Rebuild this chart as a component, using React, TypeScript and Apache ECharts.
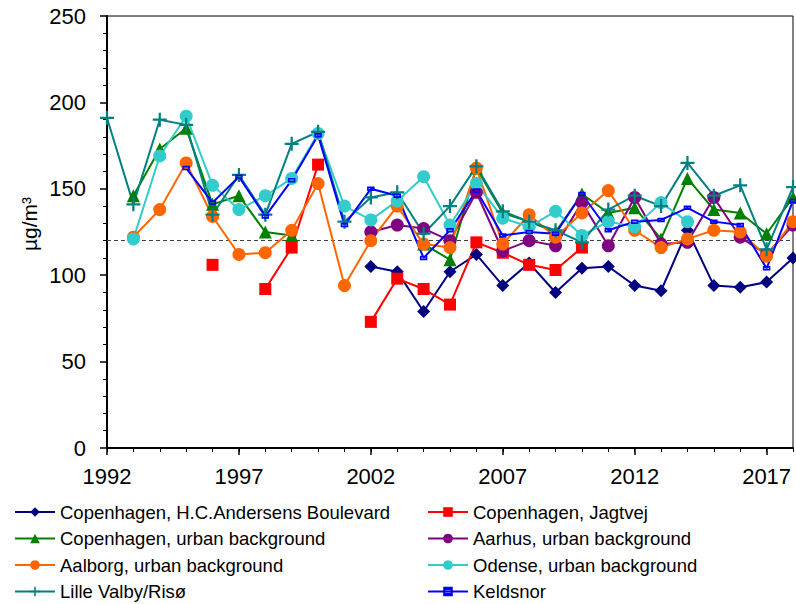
import React, { useEffect, useRef } from "react";
import * as echarts from "echarts";

const years = [
  "1992", "1993", "1994", "1995", "1996", "1997", "1998", "1999", "2000",
  "2001", "2002", "2003", "2004", "2005", "2006", "2007", "2008", "2009",
  "2010", "2011", "2012", "2013", "2014", "2015", "2016", "2017", "2018",
];

const hcAndersens = [
  null, null, null, null, null, null, null, null, null, null,
  105, 102, 79, 102, 112, 94, 107, 90, 104, 105, 94, 91, 126, 94, 93, 96, 110,
];
const jagtvej = [
  null, null, null, null, 106, null, 92, 116, 164, null,
  73, 98, 92, 83, 119, 113, 106, 103, 116, null, null, null, null, null, null, null, null,
];
const cphUrban = [
  null, 146, 173, 185, 141, 146, 125, 123, null, null,
  null, null, 118, 109, 162, 136, 131, 125, 147, 136, 139, 121, 156, 138, 136, 124, 145,
];
const aarhus = [
  null, null, null, null, null, null, null, null, null, null,
  125, 129, 127, 120, 148, 114, 120, 117, 142, 117, 145, 118, 119, 145, 122, 112, 129,
];
const aalborg = [
  null, 122, 138, 165, 134, 112, 113, 126, 153, 94,
  120, 140, 118, 116, 162, 118, 135, 122, 136, 149, 126, 116, 121, 126, 125, 111, 131,
];
const odense = [
  null, 121, 169, 192, 152, 138, 146, 156, 182, 140,
  132, 143, 157, 129, 153, 133, 128, 137, 123, 131, 128, 142, 131, null, null, null, null,
];
const lilleValby = [
  191, 141, 190, 187, 135, 158, 135, 176, 183, 131,
  145, 148, 124, 140, 163, 137, 131, 126, 119, 138, 146, 140, 165, 146, 152, 115, 151,
];
const keldsnor = [
  null, null, null, 162, 142, 157, 134, 155, 181, 129,
  150, 146, 110, 126, 149, 123, 125, 124, 147, 126, 131, 132, 139, 131, 129, 104, 143,
];

const limitValue = 120;
const yTicks = { min: 0, max: 250, interval: 50 };

const FONT = "'Liberation Sans', Arial, sans-serif";
const PLUS = "path://M4.2,0H5.8V4.2H10V5.8H5.8V10H4.2V5.8H0V4.2H4.2Z";
const HOLLOW_RECT = "path://M0,0H10V6H0Z M2.2,2.2V3.8H7.8V2.2Z";

function mk(name: string, data: (number | null)[], color: string, symbol: string, size: number, extra: any = {}) {
  return {
    name,
    type: "line",
    data,
    symbol,
    symbolSize: size,
    symbolKeepAspect: true,
    showAllSymbol: true,
    connectNulls: false,
    lineStyle: { color, width: 2 },
    itemStyle: { color },
    emphasis: { disabled: true },
    ...extra,
  };
}

export default function App() {
  const ref = useRef<HTMLDivElement>(null);
  useEffect(() => {
    if (!ref.current) return;
    const chart = echarts.init(ref.current, undefined, { renderer: "svg" });
    const legendText = { fontSize: 18.5, color: "#000", fontFamily: FONT, lineHeight: 20 };
    chart.setOption({
      animation: false,
      backgroundColor: "#fff",
      textStyle: { fontFamily: FONT },
      grid: {
        left: 107, right: 3, top: 16, bottom: 156,
        show: true, borderColor: "#000", borderWidth: 1, backgroundColor: "transparent",
      },
      legend: [
        {
          orient: "vertical", left: 14, top: 502, height: 120, padding: 0,
          itemWidth: 40, itemHeight: 12, itemGap: 6.5,
          textStyle: legendText,
          data: ["Copenhagen, H.C.Andersens Boulevard", "Copenhagen, urban background", "Aalborg, urban background", "Lille Valby/Risø"],
        },
        {
          orient: "vertical", left: 427, top: 502, height: 120, padding: 0,
          itemWidth: 40, itemHeight: 12, itemGap: 6.5,
          textStyle: legendText,
          data: ["Copenhagen, Jagtvej", "Aarhus, urban background", "Odense, urban background", "Keldsnor"],
        },
      ],
      graphic: [
        {
          type: "text", x: 29, y: 224, rotation: Math.PI / 2,
          style: { text: "µg/m³", fontSize: 21, fontFamily: FONT, fill: "#000", align: "center", verticalAlign: "middle" },
        },
      ],
      xAxis: [
        {
          type: "category", data: years, boundaryGap: false, position: "bottom",
          axisLine: { lineStyle: { color: "#000", width: 2 } },
          axisTick: { interval: 0, length: 4, lineStyle: { color: "#000", width: 1 } },
          axisLabel: { interval: 4, fontSize: 22, color: "#000", margin: 17, fontFamily: FONT },
          splitLine: { show: false },
        },
        {
          type: "category", data: years, boundaryGap: false, position: "bottom", gridIndex: 0,
          axisLine: { show: false },
          axisTick: { interval: 4, length: 7, lineStyle: { color: "#000", width: 1.5 } },
          axisLabel: { show: false },
          splitLine: { show: false },
        },
      ],
      yAxis: {
        type: "value", min: yTicks.min, max: yTicks.max, interval: yTicks.interval,
        axisLine: { show: true, lineStyle: { color: "#000", width: 2 } },
        axisTick: { show: true, length: 7, lineStyle: { color: "#000", width: 1.5 } },
        minorTick: { show: true, splitNumber: 5, length: 4, lineStyle: { color: "#000", width: 1 } },
        axisLabel: { fontSize: 22, color: "#000", margin: 21, fontFamily: FONT },
        splitLine: { show: false },
      },
      series: [
        mk("Copenhagen, H.C.Andersens Boulevard", hcAndersens, "#000080", "diamond", 13, {
          markLine: {
            silent: true, symbol: "none", label: { show: false },
            lineStyle: { color: "#404040", type: [4, 3], width: 1 },
            data: [{ yAxis: limitValue }],
            z: 1,
          },
        }),
        mk("Copenhagen, Jagtvej", jagtvej, "#FF0000", "rect", 12),
        mk("Copenhagen, urban background", cphUrban, "#008000", "triangle", 13),
        mk("Aarhus, urban background", aarhus, "#800080", "circle", 13),
        mk("Aalborg, urban background", aalborg, "#FF6600", "circle", 13),
        mk("Odense, urban background", odense, "#33CCCC", "circle", 13),
        mk("Lille Valby/Risø", lilleValby, "#008080", PLUS, 14),
        mk("Keldsnor", keldsnor, "#0000FF", HOLLOW_RECT, 7.5),
      ],
    });
    return () => chart.dispose();
  }, []);
  return <div ref={ref} style={{ position: "fixed", left: 0, top: 0, width: 796, height: 604 }} />;
}
